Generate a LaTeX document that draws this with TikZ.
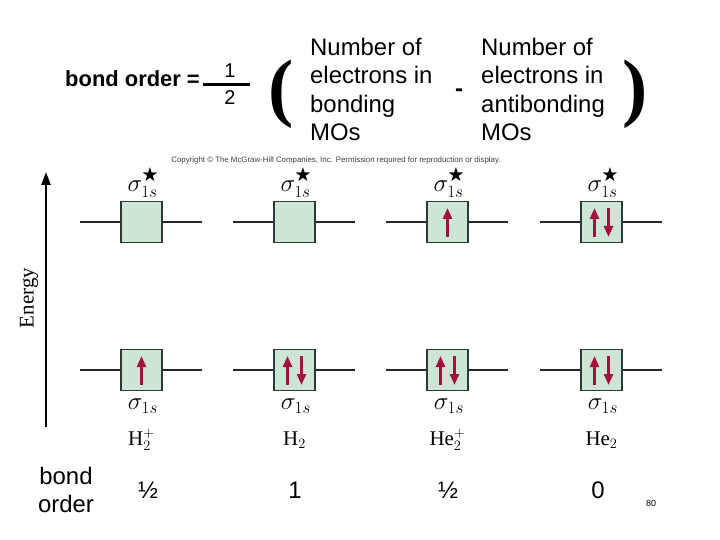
\documentclass[tikz,border=0pt]{standalone}
\usepackage{amssymb}
\usepackage{fontspec}
\setmainfont{Liberation Sans}
\newfontfamily\tnr{Liberation Serif}
\usetikzlibrary{arrows.meta}
\definecolor{cbox}{RGB}{204,229,212}
\definecolor{cedge}{RGB}{45,58,50}
\definecolor{cspin}{RGB}{163,18,58}
\definecolor{clevel}{RGB}{40,40,40}

\begin{document}
\begin{tikzpicture}[x=1bp, y=-1bp, >={Triangle[length=11bp,width=9bp]},
    mo/.style={draw=cedge, line width=1.5bp, fill=cbox, minimum size=41bp, inner sep=0pt},
    level/.style={draw=clevel, line width=1.6bp},
    spin/.style={->, cspin, line width=2.6bp},
    orb/.style={font=\fontsize{24}{26}\selectfont, inner sep=0pt},
    mol/.style={font=\fontsize{21}{24}\selectfont\tnr, inner sep=0pt},
    paren/.style={font=\fontsize{76}{76}\selectfont\tnr\bfseries, inner sep=0pt},
    big/.style={font=\fontsize{24}{28.5}\selectfont, inner sep=0pt}]

  \useasboundingbox[fill=white] (0,0) rectangle (720,540);

  % formula
  \node[font=\fontsize{22}{26}\selectfont\bfseries, anchor=base east, inner sep=0pt] (lhs) at (200,87) {bond order =};
  \node[font=\fontsize{20}{24}\selectfont, anchor=base, inner sep=0pt] (num) at (230,78) {1};
  \node[font=\fontsize{20}{24}\selectfont, anchor=base, inner sep=0pt] (den) at (230,105) {2};
  \draw[line width=3bp] (203,85) -- (250,85);
  \node[paren] (lpar) at (281,94) {(};
  \node[big, align=left, anchor=north west] (nbond) at (310,38) {Number of\\electrons in\\bonding\\MOs};
  \node[font=\fontsize{24}{28}\selectfont\bfseries, anchor=base, inner sep=0pt] (minus) at (459,97) {-};
  \node[big, align=left, anchor=north west] (nanti) at (481,38) {Number of\\electrons in\\antibonding\\MOs};
  \node[paren] (rpar) at (635,94) {)};
  \node[font=\fontsize{7.9}{9}\selectfont, text=black!75] (copy) at (336,160)
    {Copyright © The McGraw-Hill Companies, Inc. Permission required for reproduction or display.};

  % energy axis
  \coordinate (ebot) at (46,427);
  \coordinate (etop) at (46,172);
  \draw[line width=2.3bp, -{Triangle[length=13bp,width=9bp]}] (ebot) -- (etop);
  \node[font=\fontsize{21}{24}\selectfont\tnr, rotate=90] (energy) at (29,298) {Energy};

  % levels
  \foreach \i/\x in {1/141.5, 2/294.5, 3/447.5, 4/601.5} {
    \node[mo] (U\i) at (\x,222) {};
    \node[mo] (L\i) at (\x,370) {};
    \draw[level] (U\i.west) -- ++(-40,0);
    \draw[level] (U\i.east) -- ++(39,0);
    \draw[level, line width=1.3bp] (L\i.west) -- ++(-40,0);
    \draw[level, line width=1.3bp] (L\i.east) -- ++(39,0);
    \node[orb] (sU\i) at (\x+1.5,183) {$\sigma^{\bigstar}_{1s}$};
    \node[orb] (sL\i) at (\x+1.5,406) {$\sigma_{1s}$};
  }

  % electrons
  \draw[spin] ([shift={(0,15)}]L1.center) -- ([shift={(0,-14)}]L1.center);
  \draw[spin] ([shift={(-7,15)}]L2.center) -- ([shift={(-7,-14)}]L2.center);
  \draw[spin] ([shift={(7,-14)}]L2.center) -- ([shift={(7,15)}]L2.center);
  \draw[spin] ([shift={(-7,15)}]L3.center) -- ([shift={(-7,-14)}]L3.center);
  \draw[spin] ([shift={(7,-14)}]L3.center) -- ([shift={(7,15)}]L3.center);
  \draw[spin] ([shift={(0,15)}]U3.center) -- ([shift={(0,-14)}]U3.center);
  \draw[spin] ([shift={(-7,15)}]L4.center) -- ([shift={(-7,-14)}]L4.center);
  \draw[spin] ([shift={(7,-14)}]L4.center) -- ([shift={(7,15)}]L4.center);
  \draw[spin] ([shift={(-7,15)}]U4.center) -- ([shift={(-7,-14)}]U4.center);
  \draw[spin] ([shift={(7,-14)}]U4.center) -- ([shift={(7,15)}]U4.center);

  % molecules
  \node[mol] (m1) at (141.5,440) {H$^{+}_{2}$};
  \node[mol] (m2) at (294.5,440) {H$_{2}$};
  \node[mol] (m3) at (447.5,440) {He$^{+}_{2}$};
  \node[mol] (m4) at (601.5,440) {He$_{2}$};

  % bond orders
  \node[big, align=center] (bolab) at (66,490) {bond\\order};
  \node[big] (bo1) at (148,490) {½};
  \node[big] (bo2) at (295,490) {1};
  \node[big] (bo3) at (448,490) {½};
  \node[big] (bo4) at (598,490) {0};
  \node[font=\fontsize{9}{10}\selectfont, inner sep=0pt] (page) at (651,503) {80};
\end{tikzpicture}
\end{document}
